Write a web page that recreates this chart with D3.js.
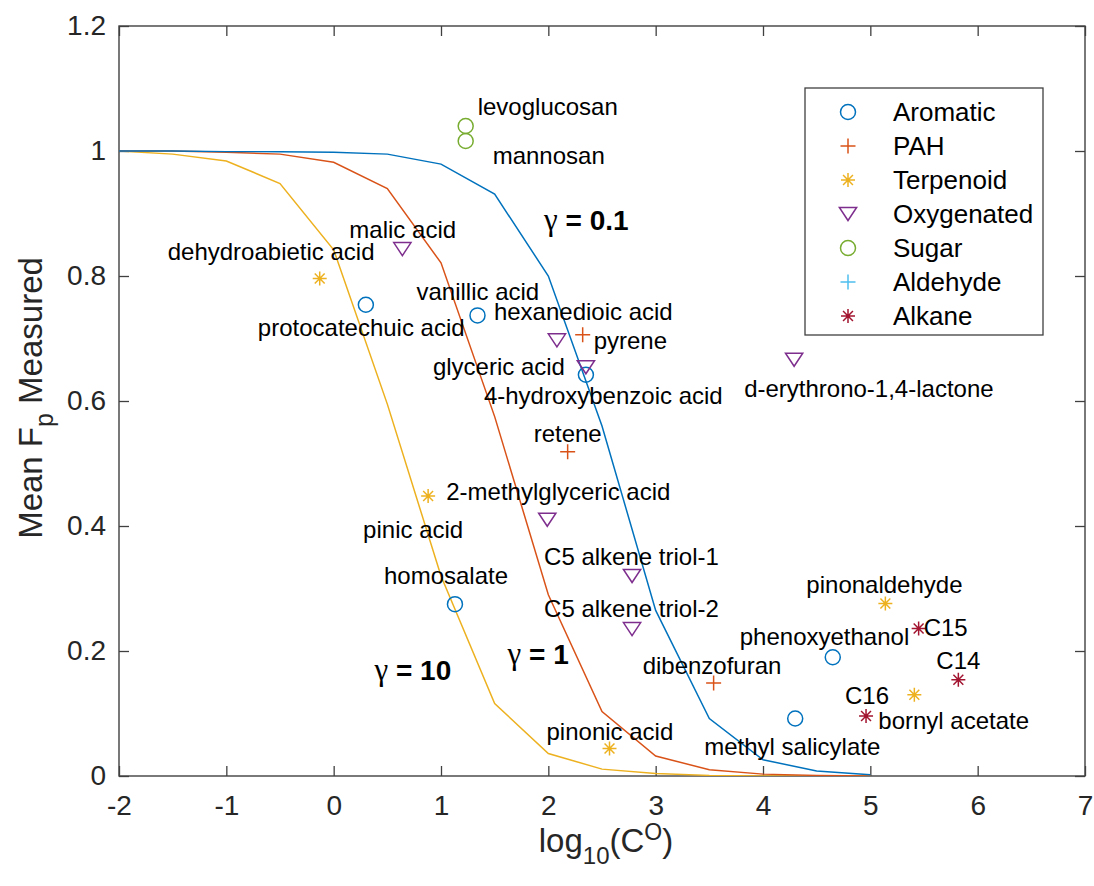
<!DOCTYPE html>
<html>
<head>
<meta charset="utf-8">
<script src="https://cdn.jsdelivr.net/npm/d3@7"></script>
<style>
  body { margin: 0; background: #fff; }
  svg { display: block; font-family: "Liberation Sans", Arial, Helvetica, sans-serif; }
</style>
</head>
<body>
<svg id="chart" width="1094" height="886"></svg>
<script>
// Partitioning curves: fraction in particle phase vs log10 saturation concentration
const logC = [-2, -1.5, -1, -0.5, 0, 0.5, 1, 1.5, 2, 2.5, 3, 3.5, 4, 4.5, 5];
const fpGamma01 = [1.000, 1.000, 0.999, 0.999, 0.998, 0.995, 0.979, 0.931, 0.800, 0.560, 0.265, 0.092, 0.026, 0.008, 0.002];
const fpGamma1  = [1.000, 1.000, 0.998, 0.995, 0.982, 0.940, 0.821, 0.575, 0.290, 0.103, 0.032, 0.010, 0.003, 0.001, 0.000];
const fpGamma10 = [1.000, 0.995, 0.984, 0.948, 0.842, 0.595, 0.320, 0.116, 0.036, 0.011, 0.004, 0.001, 0.000, 0.000, 0.000];

// Measured compounds, by class
const categories = ["Aromatic", "PAH", "Terpenoid", "Oxygenated", "Sugar", "Aldehyde", "Alkane"];

const aromaticNames = ["protocatechuic acid", "vanillic acid", "4-hydroxybenzoic acid", "homosalate", "phenoxyethanol", "methyl salicylate"];
const aromaticLogC  = [0.30, 1.34, 2.35, 1.13, 4.65, 4.30];
const aromaticFp    = [0.754, 0.737, 0.642, 0.275, 0.190, 0.092];

const pahNames = ["pyrene", "retene", "dibenzofuran"];
const pahLogC  = [2.32, 2.18, 3.54];
const pahFp    = [0.706, 0.519, 0.149];

const terpenoidNames = ["dehydroabietic acid", "pinic acid", "pinonic acid", "pinonaldehyde", "bornyl acetate"];
const terpenoidLogC  = [-0.13, 0.88, 2.57, 5.14, 5.41];
const terpenoidFp    = [0.796, 0.448, 0.044, 0.276, 0.130];

const oxygenatedNames = ["malic acid", "hexanedioic acid", "glyceric acid", "2-methylglyceric acid", "C5 alkene triol-1", "C5 alkene triol-2", "d-erythrono-1,4-lactone"];
const oxygenatedLogC  = [0.64, 2.08, 2.35, 1.99, 2.78, 2.78, 4.29];
const oxygenatedFp    = [0.843, 0.697, 0.654, 0.410, 0.320, 0.235, 0.666];

const sugarNames = ["levoglucosan", "mannosan"];
const sugarLogC  = [1.23, 1.23];
const sugarFp    = [1.040, 1.016];

const aldehydeNames = [];
const aldehydeLogC  = [];
const aldehydeFp    = [];

const alkaneNames = ["C15", "C14", "C16"];
const alkaneLogC  = [5.45, 5.82, 4.96];
const alkaneFp    = [0.236, 0.154, 0.096];

const xTicks = [-2, -1, 0, 1, 2, 3, 4, 5, 6, 7];
const xTickLabels = ["-2", "-1", "0", "1", "2", "3", "4", "5", "6", "7"];
const yTicks = [0, 0.2, 0.4, 0.6, 0.8, 1, 1.2];
const yTickLabels = ["0", "0.2", "0.4", "0.6", "0.8", "1", "1.2"];

// ---- layout & style ----
const colors = {
  Aromatic: "#0072BD", PAH: "#D95319", Terpenoid: "#EDB120", Oxygenated: "#7E2F8E",
  Sugar: "#77AC30", Aldehyde: "#4DBEEE", Alkane: "#A2142F"
};
const markerOf = {
  Aromatic: "circle", PAH: "plus", Terpenoid: "asterisk", Oxygenated: "triangle",
  Sugar: "circle", Aldehyde: "plus", Alkane: "asterisk"
};

// text placement relative to each marker (pixels: left edge, baseline)
const labelOffsets = {
  "levoglucosan": [12, -11], "mannosan": [27, 23],
  "malic acid": [-53, -11], "dehydroabietic acid": [-152, -19],
  "protocatechuic acid": [-108, 31], "vanillic acid": [-61, -15],
  "hexanedioic acid": [-63, -20], "pyrene": [11, 14],
  "glyceric acid": [-153, 8], "4-hydroxybenzoic acid": [-102, 29],
  "retene": [-34, -10], "2-methylglyceric acid": [-101, -20],
  "pinic acid": [-65, 42], "homosalate": [-71, -20],
  "C5 alkene triol-1": [-88, -11], "C5 alkene triol-2": [-88, -12],
  "dibenzofuran": [-71, -9], "pinonic acid": [-63, -9],
  "methyl salicylate": [-91, 36], "d-erythrono-1,4-lactone": [-50, 37],
  "pinonaldehyde": [-79, -11], "C15": [5, 7], "phenoxyethanol": [-93, -12],
  "C14": [-22, -11], "C16": [-21, -12], "bornyl acetate": [-36, 34]
};

const plot = { left: 119, right: 1085, top: 26, bottom: 776 };
const svg = d3.select("#chart");

const x = d3.scaleLinear().domain([-2, 7]).range([plot.left, plot.right]);
const y = d3.scaleLinear().domain([0, 1.2]).range([plot.bottom, plot.top]);

function markerPath(type, r) {
  if (type === "circle") {
    return `M${r},0A${r},${r} 0 1,1 ${-r},0A${r},${r} 0 1,1 ${r},0Z`;
  }
  if (type === "plus") {
    return `M${-r},0H${r}M0,${-r}V${r}`;
  }
  if (type === "asterisk") {
    const d = r * 0.707;
    return `M${-r},0H${r}M0,${-r}V${r}M${-d},${-d}L${d},${d}M${-d},${d}L${d},${-d}`;
  }
  if (type === "triangle") {
    const w = r * 1.15, h = r * 0.87;
    return `M${-w},${-h}H${w}L0,${h}Z`;
  }
  return "";
}
const markerSize = { circle: 7.5, plus: 7.5, asterisk: 7, triangle: 7.5 };

// ---- axes ----
const axisColor = "#404040";
const gx = svg.append("g").attr("transform", `translate(0,${plot.bottom})`)
  .call(d3.axisBottom(x).tickValues(xTicks).tickSize(-10).tickPadding(19).tickFormat((d, i) => xTickLabels[i]));
const gxTop = svg.append("g").attr("transform", `translate(0,${plot.top})`)
  .call(d3.axisTop(x).tickValues(xTicks).tickSize(-10).tickFormat(""));
const gy = svg.append("g").attr("transform", `translate(${plot.left},0)`)
  .call(d3.axisLeft(y).tickValues(yTicks).tickSize(-10).tickPadding(13).tickFormat((d, i) => yTickLabels[i]));
const gyRight = svg.append("g").attr("transform", `translate(${plot.right},0)`)
  .call(d3.axisRight(y).tickValues(yTicks).tickSize(-10).tickFormat(""));

[gx, gxTop, gy, gyRight].forEach(g => {
  g.select(".domain").remove();
  g.selectAll(".tick line").attr("stroke", axisColor).attr("stroke-width", 1.3);
  g.selectAll(".tick text").attr("fill", "#262626").style("font-size", "28px")
    .style("font-family", '"Liberation Sans", Arial, Helvetica, sans-serif');
});

svg.append("rect")
  .attr("x", plot.left).attr("y", plot.top)
  .attr("width", plot.right - plot.left).attr("height", plot.bottom - plot.top)
  .attr("fill", "none").attr("stroke", axisColor).attr("stroke-width", 1.4);

// axis titles
const xl = svg.append("text").attr("x", (plot.left + plot.right) / 2 + 4).attr("y", 852)
  .attr("text-anchor", "middle").attr("fill", "#262626").style("font-size", "33px");
xl.append("tspan").text("log");
xl.append("tspan").attr("dy", 12).style("font-size", "24px").text("10");
xl.append("tspan").attr("dy", -12).text("(C");
xl.append("tspan").attr("dy", -12).style("font-size", "23px").text("O");
xl.append("tspan").attr("dy", 12).text(")");

const yl = svg.append("text")
  .attr("transform", `translate(42,${(plot.top + plot.bottom) / 2 - 3}) rotate(-90)`)
  .attr("text-anchor", "middle").attr("fill", "#262626").style("font-size", "33px");
yl.append("tspan").text("Mean F");
yl.append("tspan").attr("dy", 11).style("font-size", "25px").text("p");
yl.append("tspan").attr("dy", -11).text(" Measured");

// ---- curves ----
const clipId = "plot-clip";
svg.append("clipPath").attr("id", clipId).append("rect")
  .attr("x", plot.left).attr("y", plot.top)
  .attr("width", plot.right - plot.left).attr("height", plot.bottom - plot.top);

const line = d3.line().x(d => x(d[0])).y(d => y(d[1]));
const curves = [
  { values: fpGamma10, color: "#EDB120" },
  { values: fpGamma1, color: "#D95319" },
  { values: fpGamma01, color: "#0072BD" }
];
const curveG = svg.append("g").attr("clip-path", `url(#${clipId})`);
curves.forEach(c => {
  curveG.append("path")
    .datum(logC.map((v, i) => [v, c.values[i]]))
    .attr("d", line).attr("fill", "none")
    .attr("stroke", c.color).attr("stroke-width", 1.5);
});

// curve annotations
function gammaLabel(xv, yv, value) {
  const t = svg.append("text").attr("x", x(xv)).attr("y", y(yv)).attr("fill", "#000");
  t.append("tspan").style("font-family", '"Liberation Serif", "Times New Roman", serif')
    .style("font-size", "31px").text("\u03B3");
  t.append("tspan").style("font-weight", "bold").style("font-size", "28px").text(" = " + value);
}
gammaLabel(1.96, 0.874, "0.1");
gammaLabel(1.62, 0.180, "1");
gammaLabel(0.38, 0.154, "10");

// ---- measured points ----
const groups = [
  { cat: "Aromatic", names: aromaticNames, xs: aromaticLogC, ys: aromaticFp },
  { cat: "PAH", names: pahNames, xs: pahLogC, ys: pahFp },
  { cat: "Terpenoid", names: terpenoidNames, xs: terpenoidLogC, ys: terpenoidFp },
  { cat: "Oxygenated", names: oxygenatedNames, xs: oxygenatedLogC, ys: oxygenatedFp },
  { cat: "Sugar", names: sugarNames, xs: sugarLogC, ys: sugarFp },
  { cat: "Aldehyde", names: aldehydeNames, xs: aldehydeLogC, ys: aldehydeFp },
  { cat: "Alkane", names: alkaneNames, xs: alkaneLogC, ys: alkaneFp }
];

const pointsG = svg.append("g");
const labelsG = svg.append("g");
groups.forEach(g => {
  const type = markerOf[g.cat];
  const pts = g.names.map((n, i) => ({ name: n, x: g.xs[i], y: g.ys[i] }));
  pointsG.selectAll(null).data(pts).enter().append("path")
    .attr("transform", d => `translate(${x(d.x)},${y(d.y)})`)
    .attr("d", markerPath(type, markerSize[type]))
    .attr("fill", "none").attr("stroke", colors[g.cat]).attr("stroke-width", 1.5);
  labelsG.selectAll(null).data(pts).enter().append("text")
    .attr("x", d => x(d.x) + (labelOffsets[d.name] || [8, 0])[0])
    .attr("y", d => y(d.y) + (labelOffsets[d.name] || [8, 0])[1])
    .attr("fill", "#000").style("font-size", "24px")
    .text(d => d.name);
});

// ---- legend ----
const legend = { left: 805, top: 88, width: 238, height: 247, rowTop: 112, rowStep: 34 };
svg.append("rect")
  .attr("x", legend.left).attr("y", legend.top)
  .attr("width", legend.width).attr("height", legend.height)
  .attr("fill", "#fff").attr("stroke", axisColor).attr("stroke-width", 1.3);
const legRows = svg.append("g").selectAll("g").data(categories).enter().append("g")
  .attr("transform", (d, i) => `translate(${legend.left},${legend.rowTop + i * legend.rowStep})`);
legRows.append("path")
  .attr("transform", "translate(43,0)")
  .attr("d", d => markerPath(markerOf[d], markerSize[markerOf[d]]))
  .attr("fill", "none").attr("stroke", d => colors[d]).attr("stroke-width", 1.5);
legRows.append("text").attr("x", 88).attr("y", 9)
  .attr("fill", "#000").style("font-size", "26px").text(d => d);
</script>
</body>
</html>
